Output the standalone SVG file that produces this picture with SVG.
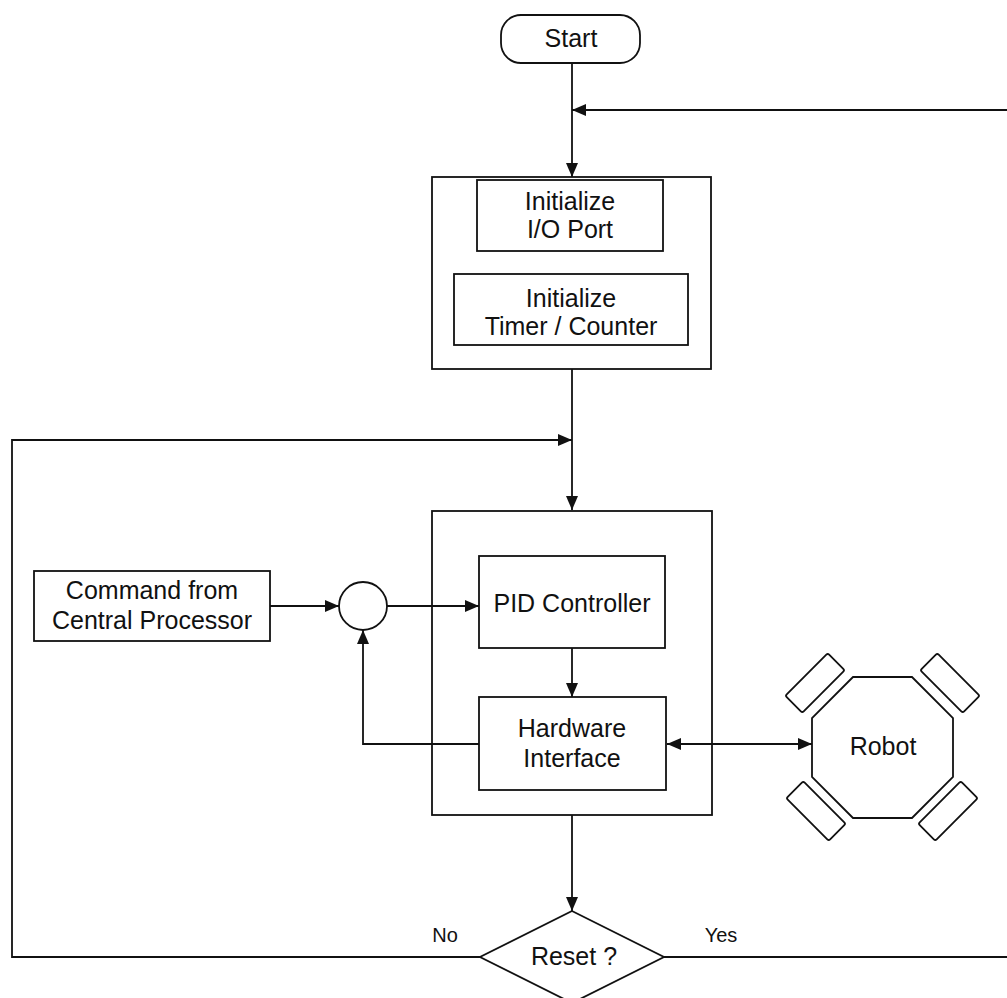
<svg xmlns="http://www.w3.org/2000/svg" width="1007" height="998" viewBox="0 0 1007 998">
  <style>
    .box { fill: #fff; stroke: #111; stroke-width: 1.8; }
    .frame { fill: none; stroke: #111; stroke-width: 1.8; }
    .wire { fill: none; stroke: #111; stroke-width: 1.8; }
    .lbl { font-family: "Liberation Sans", Arial, sans-serif; font-size: 25px; fill: #111; text-anchor: middle; }
    .small { font-size: 20px; }
  </style>
  <defs>
    <marker id="arrow" viewBox="0 0 14 12" refX="14" refY="6" markerWidth="14" markerHeight="12" markerUnits="userSpaceOnUse" orient="auto-start-reverse">
      <path d="M0,0 L14,6 L0,12 Z" fill="#111"/>
    </marker>
  </defs>

  <rect width="1007" height="998" fill="#fff"/>

  <!-- connectors -->
  <g id="connectors">
    <!-- start down to init block -->
    <path class="wire" d="M572,63 V177" marker-end="url(#arrow)"/>
    <!-- reset "Yes" return into top of init -->
    <path class="wire" d="M1007,110 H572" marker-end="url(#arrow)"/>
    <!-- init block down to control block -->
    <path class="wire" d="M572,369 V510" marker-end="url(#arrow)"/>
    <!-- reset "No" loop back into control block -->
    <path class="wire" d="M480,957 H12 V440 H572" marker-end="url(#arrow)"/>
    <!-- Yes branch out to the right -->
    <path class="wire" d="M664,957 H1007"/>
    <!-- command into summing junction -->
    <path class="wire" d="M270,606 H339" marker-end="url(#arrow)"/>
    <!-- summing junction into PID -->
    <path class="wire" d="M387,606 H479" marker-end="url(#arrow)"/>
    <!-- PID to hardware interface -->
    <path class="wire" d="M572,648 V697" marker-end="url(#arrow)"/>
    <!-- feedback from hardware interface to junction -->
    <path class="wire" d="M479,744 H363 V630" marker-end="url(#arrow)"/>
    <!-- hardware interface <-> robot -->
    <path class="wire" d="M667,744 H812" marker-start="url(#arrow)" marker-end="url(#arrow)"/>
    <!-- control block down to decision -->
    <path class="wire" d="M572,815 V911" marker-end="url(#arrow)"/>
  </g>

  <!-- start terminal -->
  <g id="start">
    <rect class="box" x="501" y="15" width="139" height="48" rx="20" ry="20"/>
    <text class="lbl" x="571" y="47">Start</text>
  </g>

  <!-- initialization block -->
  <g id="init">
    <rect class="frame" x="432" y="177" width="279" height="192"/>
    <g id="init-io">
      <rect class="box" x="477" y="180" width="186" height="71"/>
      <text class="lbl" x="570" y="210">Initialize</text>
      <text class="lbl" x="570" y="238">I/O Port</text>
    </g>
    <g id="init-timer">
      <rect class="box" x="454" y="274" width="234" height="71"/>
      <text class="lbl" x="571" y="307">Initialize</text>
      <text class="lbl" x="571" y="335">Timer / Counter</text>
    </g>
  </g>

  <!-- command input -->
  <g id="command">
    <rect class="box" x="34" y="571" width="236" height="70"/>
    <text class="lbl" x="152" y="599">Command from</text>
    <text class="lbl" x="152" y="629">Central Processor</text>
  </g>

  <!-- summing junction -->
  <g id="junction">
    <circle class="box" cx="363" cy="606" r="24"/>
  </g>

  <!-- control loop block -->
  <g id="control">
    <rect class="frame" x="432" y="511" width="280" height="304"/>
    <g id="pid">
      <rect class="box" x="479" y="556" width="186" height="92"/>
      <text class="lbl" x="572" y="612">PID Controller</text>
    </g>
    <g id="hardware">
      <rect class="box" x="479" y="697" width="187" height="93"/>
      <text class="lbl" x="572" y="737">Hardware</text>
      <text class="lbl" x="572" y="767">Interface</text>
    </g>
  </g>

  <!-- robot body with four wheels -->
  <g id="robot">
    <polygon class="box" points="853,677 912,677 953,718 953,777 912,818 853,818 812,777 812,718"/>
    <rect class="box" x="-30" y="-12" width="60" height="24" rx="2" transform="translate(815,683) rotate(-45)"/>
    <rect class="box" x="-30" y="-12" width="60" height="24" rx="2" transform="translate(950,683) rotate(45)"/>
    <rect class="box" x="-30" y="-12" width="60" height="24" rx="2" transform="translate(816,811) rotate(45)"/>
    <rect class="box" x="-30" y="-12" width="60" height="24" rx="2" transform="translate(948,811) rotate(-45)"/>
    <text class="lbl" x="883" y="755">Robot</text>
  </g>

  <!-- reset decision -->
  <g id="reset">
    <polygon class="box" points="572,911 664,957 572,1003 480,957"/>
    <text class="lbl" x="574" y="965">Reset ?</text>
    <text class="lbl small" x="445" y="942">No</text>
    <text class="lbl small" x="721" y="942">Yes</text>
  </g>
</svg>
